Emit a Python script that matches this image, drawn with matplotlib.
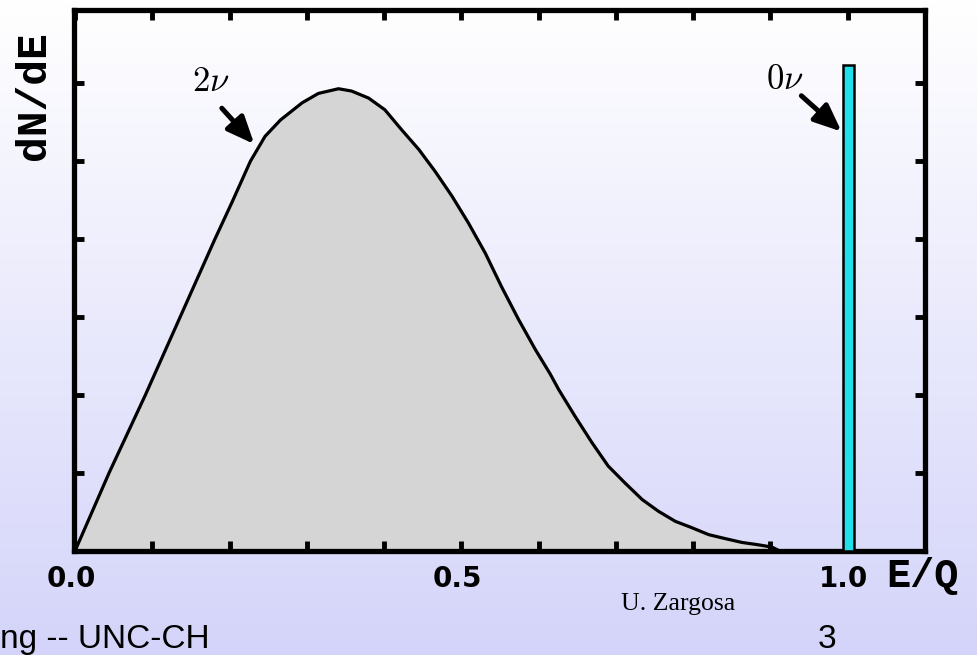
import numpy as np
import matplotlib
matplotlib.use("Agg")
import matplotlib.pyplot as plt
import matplotlib.transforms as mtransforms

plt.rcParams["mathtext.fontset"] = "cm"

# 2-neutrino spectrum (E/Q, dN/dE in tick units)
energy = [0.0, 0.044, 0.091, 0.136, 0.181, 0.203, 0.227, 0.246, 0.266, 0.294,
          0.315, 0.341, 0.358, 0.380, 0.401, 0.423, 0.445, 0.466, 0.488, 0.509,
          0.531, 0.552, 0.574, 0.596, 0.615, 0.626, 0.647, 0.669, 0.690, 0.712,
          0.734, 0.755, 0.777, 0.798, 0.820, 0.841, 0.863, 0.884, 0.902, 0.912]
dnde = [0.0, 1.0, 2.0, 3.0, 4.0, 4.47, 5.0, 5.32, 5.53, 5.75,
        5.87, 5.93, 5.90, 5.81, 5.66, 5.40, 5.15, 4.87, 4.55, 4.21,
        3.82, 3.39, 2.97, 2.58, 2.27, 2.07, 1.73, 1.39, 1.09, 0.87,
        0.66, 0.51, 0.38, 0.30, 0.21, 0.16, 0.11, 0.08, 0.05, 0.0]

# 0-neutrino line
line_energy = 1.001
line_width = 0.014
line_height = 6.24

xticks = [0.0, 0.1, 0.2, 0.3, 0.4, 0.5, 0.6, 0.7, 0.8, 0.9, 1.0]
xticklabels = ["0.0", "", "", "", "", "0.5", "", "", "", "", "1.0"]
yticks = [1, 2, 3, 4, 5, 6]

W, H = 977, 655
fig = plt.figure(figsize=(W / 100, H / 100), dpi=100)

# background gradient
bg = fig.add_axes([0, 0, 1, 1], zorder=0)
top = np.array([255, 255, 255]) / 255
bot = np.array([212, 212, 250]) / 255
t = np.linspace(0, 1, 256)[:, None]
grad = top[None, :] * (1 - t) + bot[None, :] * t
bg.imshow(grad[:, None, :], aspect="auto", extent=[0, 1, 0, 1])
bg.set_axis_off()

ax = fig.add_axes([74 / W, 1 - 551 / H, (925 - 74) / W, (551 - 10) / H], zorder=1)
ax.patch.set_alpha(0)
ax.set_xlim(-0.0013, 1.1)
ax.set_ylim(0, 6.94)

ax.fill_between(energy, dnde, 0, color="#d5d5d5", zorder=1)
ax.plot(energy, dnde, color="black", lw=2.3, zorder=2, solid_capstyle="round",
        solid_joinstyle="round")
ax.bar([line_energy], [line_height], width=line_width, color="#22e0ea",
       edgecolor="black", linewidth=1.8, zorder=3)

for s in ax.spines.values():
    s.set_linewidth(3.8)
ax.set_xticks(xticks)
ax.set_xticklabels(xticklabels)
ax.set_yticks(yticks)
ax.set_yticklabels([])
ax.tick_params(axis="both", direction="in", length=7, width=3.5,
               top=True, right=True, pad=10)
offset = mtransforms.ScaledTranslation(-4 / 100, 0, fig.dpi_scale_trans)
for lab in ax.get_xticklabels():
    lab.set_fontfamily("DejaVu Sans")
    lab.set_fontweight("bold")
    lab.set_fontsize(20)
    lab.set_transform(lab.get_transform() + offset)

# annotations
arrow_style = "-|>,head_length=0.75,head_width=0.32"
ax.annotate("", xy=(0.232, 5.22), xytext=(0.190, 5.68),
            arrowprops=dict(arrowstyle=arrow_style, lw=3.6, color="black",
                            mutation_scale=22, shrinkA=0, shrinkB=0))
ax.text(0.176, 6.03, r"$2\nu$", fontsize=25, ha="center", va="center")
ax.annotate("", xy=(0.992, 5.38), xytext=(0.940, 5.84),
            arrowprops=dict(arrowstyle=arrow_style, lw=3.6, color="black",
                            mutation_scale=22, shrinkA=0, shrinkB=0))
ax.text(0.918, 6.06, r"$0\nu$", fontsize=25, ha="center", va="center")

fig.text(922 / W, 1 - 576 / H, "E/Q", fontsize=29, fontfamily="Liberation Mono",
         fontweight="bold", ha="center", va="center", zorder=5)
fig.text(34 / W, 1 - 96 / H, "dN/dE", fontsize=31, fontfamily="Liberation Mono",
         fontweight="bold", ha="center", va="center", rotation=90, zorder=5)

fig.text(0 / W, 1 - 648 / H, "ng -- UNC-CH", fontsize=24,
         fontfamily="Liberation Sans", ha="left", va="baseline", zorder=5)
fig.text(827 / W, 1 - 648 / H, "3", fontsize=24,
         fontfamily="Liberation Sans", ha="center", va="baseline", zorder=5)
fig.text(621 / W, 1 - 610 / H, "U. Zargosa", fontsize=18.5,
         fontfamily="Liberation Serif", ha="left", va="baseline", zorder=5)

fig.savefig("out.png", dpi=100)
